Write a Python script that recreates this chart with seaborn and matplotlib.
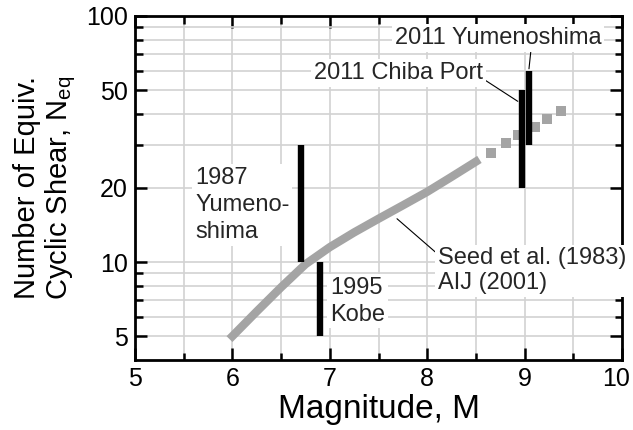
import matplotlib
matplotlib.use("Agg")
import matplotlib.pyplot as plt
import seaborn as sns
import pandas as pd
from matplotlib.ticker import FixedLocator, FixedFormatter, NullFormatter
from matplotlib.transforms import ScaledTranslation

# ---- data ----
# Seed et al. (1983) / AIJ (2001) curve
curve_mag = [6.0, 6.25, 6.5, 6.75, 7.0, 7.25, 7.5, 7.75, 8.0, 8.25, 8.5]
curve_neq = [5.0, 6.3, 7.9, 9.8, 11.5, 13.2, 15.0, 17.0, 19.3, 22.2, 25.6]
# extension drawn as square markers
ext_mag = [8.655, 8.81, 8.93, 9.105, 9.23, 9.37]
ext_neq = [27.7, 30.5, 32.8, 35.4, 38.1, 41.1]

# observed ranges
event_names = ["1987\nYumeno-\nshima", "1995\nKobe", "2011 Chiba Port", "2011 Yumenoshima"]
event_mag = [6.70, 6.90, 8.975, 9.048]
event_nmin = [10, 5, 20, 30]
event_nmax = [30, 10, 50, 60]

x_major = [5, 6, 7, 8, 9, 10]
x_minor = [5.5, 6.5, 7.5, 8.5, 9.5]
y_major = [5, 10, 20, 50, 100]
y_major_labels = ["5", "10", "20", "50", "100"]
y_minor = [6, 7, 8, 9, 30, 40, 60, 70, 80, 90]

# ---- style ----
sns.set_theme(style="ticks")
plt.rcParams["font.family"] = ["Liberation Sans", "DejaVu Sans"]
plt.rcParams["mathtext.fontset"] = "custom"
plt.rcParams["mathtext.rm"] = "Liberation Sans"

GRAY = "#a4a4a4"
GRID = "#d2d2d2"

fig = plt.figure(figsize=(6.33, 4.30), dpi=100)
ax = fig.add_axes([0.2133, 0.1628, 0.7693, 0.800])

ax.set_yscale("log")
ax.set_xlim(5, 10)
ax.set_ylim(4, 100)

# curve
curve_df = pd.DataFrame({"M": curve_mag, "N": curve_neq})
sns.lineplot(data=curve_df, x="M", y="N", ax=ax, color=GRAY, lw=6.0,
             solid_capstyle="projecting", solid_joinstyle="round",
             zorder=4, sort=False)
ext_df = pd.DataFrame({"M": ext_mag, "N": ext_neq})
sns.scatterplot(data=ext_df, x="M", y="N", ax=ax, color=GRAY, marker="s",
                s=55, linewidth=0, zorder=4)

# event bars
ax.vlines(event_mag, event_nmin, event_nmax, colors="black", lw=4.6,
          zorder=5, capstyle="butt")

# ticks & grid
ax.xaxis.set_major_locator(FixedLocator(x_major))
ax.xaxis.set_minor_locator(FixedLocator(x_minor))
ax.xaxis.set_minor_formatter(NullFormatter())
ax.yaxis.set_major_locator(FixedLocator(y_major))
ax.yaxis.set_major_formatter(FixedFormatter(y_major_labels))
ax.yaxis.set_minor_locator(FixedLocator(y_minor))
ax.yaxis.set_minor_formatter(NullFormatter())

ax.tick_params(which="both", direction="in", top=True, right=True,
               color="black", width=1.8, labelsize=18, pad=5,
               labelcolor="black")
ax.tick_params(which="major", length=8.6)
ax.tick_params(which="minor", length=5.4)
ax.grid(which="both", color=GRID, lw=1.2)
ax.set_axisbelow(True)
for sp in ax.spines.values():
    sp.set_linewidth(2.0)
    sp.set_color("black")

ax.set_xlabel("Magnitude, M", fontsize=24, labelpad=2, color="black")
ax.set_ylabel("Number of Equiv.\nCyclic Shear, N$_\\mathregular{eq}$",
              fontsize=21, labelpad=6, linespacing=1.1, color="black")

# annotations
box = dict(boxstyle="square,pad=0.12", fc="white", ec="none")
ax.text(5.616, 17.0, event_names[0], fontsize=17, ha="left", va="center",
        bbox=box, zorder=3, linespacing=1.3)
ax.text(7.005, 6.94, event_names[1], fontsize=17, ha="left", va="center",
        bbox=box, zorder=3, linespacing=1.3)
ax.annotate(event_names[2], xy=(8.93, 45), xytext=(8.573, 58.5),
            fontsize=17, ha="right", va="center", bbox=box, zorder=3,
            arrowprops=dict(arrowstyle="-", color="black", lw=0.8,
                            shrinkA=0, shrinkB=0, relpos=(1.0, 0.25)))
ax.annotate(event_names[3], xy=(9.045, 61), xytext=(8.727, 81.4),
            fontsize=17, ha="center", va="center", bbox=box, zorder=3,
            arrowprops=dict(arrowstyle="-", color="black", lw=0.8,
                            shrinkA=0, shrinkB=0, relpos=(0.66, 0.0)))
ax.annotate("Seed et al. (1983)\nAIJ (2001)", xy=(7.69, 15.0),
            xytext=(8.111, 9.23), fontsize=17, ha="left", va="center",
            bbox=box, zorder=3, linespacing=1.15,
            arrowprops=dict(arrowstyle="-", color="black", lw=0.8,
                            shrinkA=0, shrinkB=0, relpos=(0.0, 0.85)))

# keep the last x tick label inside the canvas, as in the reference
fig.canvas.draw()
last = ax.xaxis.get_major_ticks()[-1].label1
last.set_transform(last.get_transform() + ScaledTranslation(-6 / 100, 0, fig.dpi_scale_trans))

fig.savefig("out.png", dpi=100)
